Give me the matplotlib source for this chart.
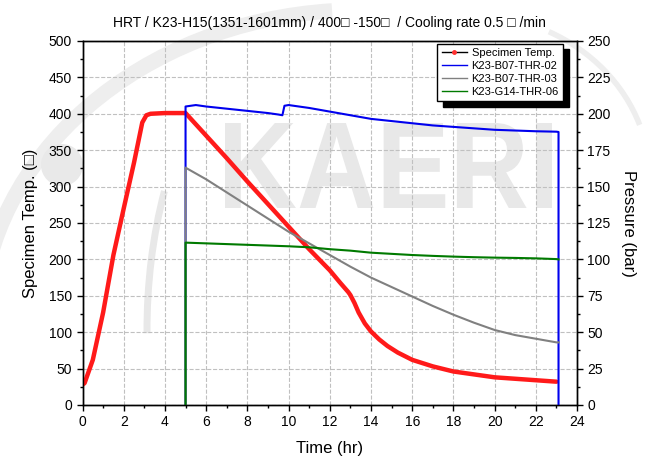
import numpy as np
import matplotlib.pyplot as plt
from matplotlib.lines import Line2D
from matplotlib.patches import PathPatch, Arc, Circle
from matplotlib.textpath import TextPath
from matplotlib.font_manager import FontProperties
from matplotlib.transforms import Affine2D, IdentityTransform

plt.rcParams['font.family'] = ['Liberation Sans', 'DejaVu Sans']

# specimen temperature (left axis, deg C)
temp_t = [0, 0.1, 0.5, 1.0, 1.5, 2.0, 2.5, 2.9, 3.1, 3.3, 4.0, 5.0, 6, 7, 8, 9, 10, 11, 12,
          12.5, 12.9, 13.0, 13.2, 13.4, 13.7, 14, 14.4, 14.8, 15.3, 16, 17, 18, 19, 20, 21, 22, 23]
temp_v = [28, 30, 62, 127, 206, 270, 333, 388, 398, 400, 401, 401, 370, 339, 307, 276, 245, 214, 185,
          168, 155, 151, 140, 127, 112, 101, 90, 81, 72, 62, 53, 46, 42, 38, 36, 34, 32]

# pressures (right axis, bar)
thr02_t = [5, 5, 5.5, 6, 7, 8, 9, 9.5, 9.7, 9.8, 10, 11, 12, 13, 14, 15, 16, 17, 18, 19, 20, 21, 22, 23, 23.1, 23.1]
thr02_v = [0, 205, 206, 205, 203.5, 202, 200.5, 199.5, 199, 205.5, 206, 204, 201.5, 199, 196.5, 195, 193.5,
           192, 191, 190, 189, 188.5, 188, 187.7, 187.5, 0]

thr03_t = [5, 5, 6, 7, 8, 9, 10, 11, 12, 13, 14, 15, 16, 17, 18, 19, 20, 21, 22, 23, 23.1]
thr03_v = [0, 163, 155, 146, 137, 128, 119, 111, 103, 95, 87.5, 81, 74.5, 68, 62, 56.5, 51.5, 48, 45.5, 43, 43]

thr06_t = [5, 5, 6, 7, 8, 9, 10, 11, 12, 13, 14, 15, 16, 17, 18, 19, 20, 21, 22, 23, 23.1]
thr06_v = [0, 111.5, 111, 110.5, 110, 109.5, 109, 108.3, 107, 106, 104.6, 103.8, 103, 102.4, 101.9,
           101.5, 101.2, 101, 100.7, 100.2, 100]

labels = ['Specimen Temp.', 'K23-B07-THR-02', 'K23-B07-THR-03', 'K23-G14-THR-06']

fig = plt.figure(figsize=(6.58, 4.76), dpi=100)
H = 476

# background watermark (KAERI logo, light grey)
wm = '#e8e8e8'
tp = TextPath((0, 0), 'KAERI', prop=FontProperties(family='Liberation Sans', weight='bold'))
ext = tp.get_extents()
x0, x1, ytop, ybot = 225, 552, 123, 208
sx = (x1 - x0) / ext.width
sy = (ybot - ytop) / ext.height
tr = Affine2D().translate(-ext.x0, -ext.y0).scale(sx, sy).translate(x0, H - ybot)
px = IdentityTransform()
fig.patches.append(PathPatch(tr.transform_path(tp), facecolor=wm, edgecolor='none',
                             transform=px, zorder=-5))
fig.patches.append(Arc((360, H - 330), 760, 640, theta1=95, theta2=178, lw=11,
                       color='#eeeeee', transform=px, zorder=-5))
fig.patches.append(Arc((330, H - 330), 366, 652, theta1=140, theta2=181, lw=5,
                       color='#e8e8e8', transform=px, zorder=-5))
fig.patches.append(Arc((470, H - 180), 360, 330, theta1=18, theta2=62, lw=4,
                       color='#eeeeee', transform=px, zorder=-5))
fig.patches.append(Circle((62, H - 165), 21, facecolor='#e9e9e9', edgecolor='none',
                          transform=px, zorder=-5))

ax = fig.add_axes([0.1254, 0.1492, 0.7516, 0.7647])
ax.set_facecolor('none')
ax2 = ax.twinx()
ax2.set_facecolor('none')

ax.plot(temp_t, temp_v, color='#ff1a1a', lw=3.2, solid_capstyle='round', zorder=3)
ax2.plot(thr02_t, thr02_v, color='#0000ee', lw=1.5)
ax2.plot(thr03_t, thr03_v, color='#808080', lw=1.5)
ax2.plot(thr06_t, thr06_v, color='#007a00', lw=1.5)

ax.set_xlim(0, 24)
ax.set_ylim(0, 500)
ax2.set_ylim(0, 250)
ax.set_xticks(np.arange(0, 25, 2))
ax.set_xticks(np.arange(0, 25, 1), minor=True)
ax.set_yticks(np.arange(0, 501, 50))
ax.set_yticks(np.arange(0, 501, 25), minor=True)
ax2.set_yticks(np.arange(0, 251, 25))
ax2.set_yticks(np.arange(0, 251, 12.5), minor=True)

ax.grid(True, which='major', color='#c0c0c0', ls='--', lw=0.8)
for a in (ax, ax2):
    a.tick_params(which='major', direction='out', length=4, width=1, labelsize=10, colors='black')
    a.tick_params(which='minor', direction='out', length=2.5, width=1)
    for s in a.spines.values():
        s.set_linewidth(1)

ax.set_xlabel('Time (hr)', fontsize=12, labelpad=8)
ax.set_ylabel('Specimen Temp. (□)', fontsize=12, labelpad=8)
ax2.set_ylabel('Pressure (bar)', fontsize=12, rotation=270, labelpad=18)
ax.set_title('HRT / K23-H15(1351-1601mm) / 400□ -150□  / Cooling rate 0.5 □ /min',
             fontsize=10, pad=10)

handles = [Line2D([], [], color='black', lw=1, marker='o', ms=2.5, mfc='#ff3030', mec='#ff3030'),
           Line2D([], [], color='#0000ee', lw=1),
           Line2D([], [], color='#808080', lw=1),
           Line2D([], [], color='#007a00', lw=1)]
leg = ax2.legend(handles, labels, loc='upper right', bbox_to_anchor=(0.972, 0.992), borderaxespad=0,
                 fontsize=8, fancybox=False, framealpha=1, edgecolor='black', handlelength=2.3,
                 labelspacing=0.25, borderpad=0.4, handletextpad=0.4,
                 shadow={'ox': 4, 'oy': -4, 'facecolor': 'black', 'edgecolor': 'black', 'alpha': 1})
leg.get_frame().set_linewidth(1)

fig.savefig('out.png', dpi=100)
